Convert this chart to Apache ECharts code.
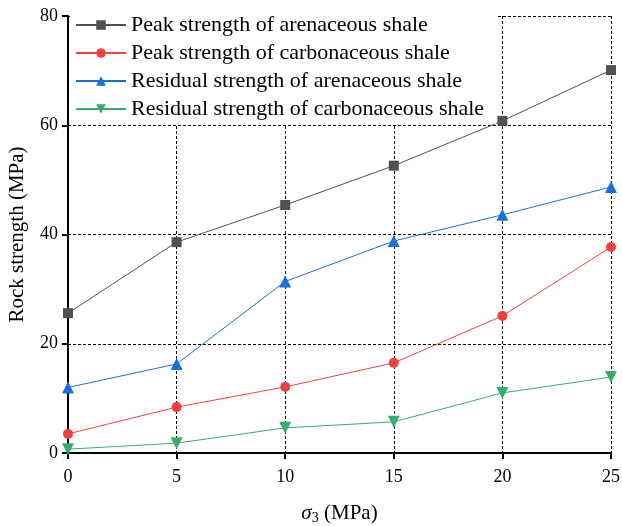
<!DOCTYPE html>
<html><head><meta charset="utf-8">
<script src="https://cdn.jsdelivr.net/npm/echarts@6/dist/echarts.min.js"></script>
<style>html,body{margin:0;padding:0;background:#fff}#c{width:622px;height:526px}</style>
</head><body><div id="c"></div>
<script>
var xValues = [0, 5, 10, 15, 20, 25];
var seriesNames = ['Peak strength of arenaceous shale','Peak strength of carbonaceous shale','Residual strength of arenaceous shale','Residual strength of carbonaceous shale'];
var peakArenaceous = [25.6, 38.6, 45.4, 52.6, 60.8, 70.1];
var peakCarbonaceous = [3.5, 8.4, 12.1, 16.5, 25.1, 37.7];
var residualArenaceous = [12.0, 16.3, 31.4, 38.8, 43.6, 48.7];
var residualCarbonaceous = [0.7, 1.8, 4.6, 5.7, 11.0, 13.9];
var yTicks = [0, 20, 40, 60, 80];
var xTicks = [0, 5, 10, 15, 20, 25];

var F = '"Liberation Serif","Times New Roman",serif';
var colors = ['#515151','#F14040','#1A6FDF','#37AD6B'];
var symbols = ['rect','circle','triangle','triangle'];
var sizes = [10,10,12,12];
var rot = [0,0,0,180];
var dataSets = [peakArenaceous, peakCarbonaceous, residualArenaceous, residualCarbonaceous];
function pairs(arr){ return xValues.map(function(x,i){ return [x, arr[i]]; }); }
var series = dataSets.map(function(d,i){
  return {
    name: seriesNames[i], type:'line', data: pairs(d),
    symbol: symbols[i], symbolSize: sizes[i], symbolRotate: rot[i],
    itemStyle:{color: colors[i]}, lineStyle:{color: colors[i], width:1},
    z: 3
  };
});
var chart = echarts.init(document.getElementById('c'), null, {renderer:'canvas'});
chart.setOption({
  animation:false,
  textStyle:{fontFamily:F},
  grid:{left:68, right:11, top:16, bottom:73, containLabel:false, outerBoundsMode:'none'},
  legend:{
    left:70, top:0, orient:'vertical',
    data: seriesNames,
    itemWidth:50, itemHeight:12, itemGap:6,
    backgroundColor:'#fff', padding:[14,12,4,5],
    textStyle:{fontFamily:F, fontSize:22, color:'#000'},
    z: 10
  },
  xAxis:{
    type:'value', min:0, max:25, interval:5,
    name:'{i|σ}{s|3}{n| (MPa)}', nameLocation:'middle', nameGap:48,
    nameTextStyle:{fontFamily:F, fontSize:21, color:'#000',
      rich:{i:{fontFamily:F,fontSize:21,fontStyle:'italic',color:'#000'}, s:{fontFamily:F,fontSize:14,color:'#000',padding:[10,0,0,0]}, n:{fontFamily:F,fontSize:21,color:'#000'}}},
    axisLine:{show:true, onZero:false, lineStyle:{color:'#000', width:2}},
    axisTick:{show:true, inside:false, length:6, lineStyle:{color:'#000', width:2}},
    axisLabel:{fontFamily:F, fontSize:18, color:'#000', margin:15,
      formatter:function(v){ return xTicks.indexOf(v)>=0 ? String(v) : ''; }},
    splitLine:{show:true, lineStyle:{color:'#000', type:[3,2], width:1}}
  },
  yAxis:{
    type:'value', min:0, max:80, interval:20,
    name:'Rock strength (MPa)', nameLocation:'middle', nameGap:40,
    nameTextStyle:{fontFamily:F, fontSize:21, color:'#000'},
    axisLine:{show:true, onZero:false, lineStyle:{color:'#000', width:2}},
    axisTick:{show:true, inside:false, length:6, lineStyle:{color:'#000', width:2}},
    axisLabel:{fontFamily:F, fontSize:18, color:'#000', margin:10,
      formatter:function(v){ return yTicks.indexOf(v)>=0 ? String(v) : ''; }},
    splitLine:{show:true, lineStyle:{color:'#000', type:[3,2], width:1}}
  },
  series: series
});
</script></body></html>
